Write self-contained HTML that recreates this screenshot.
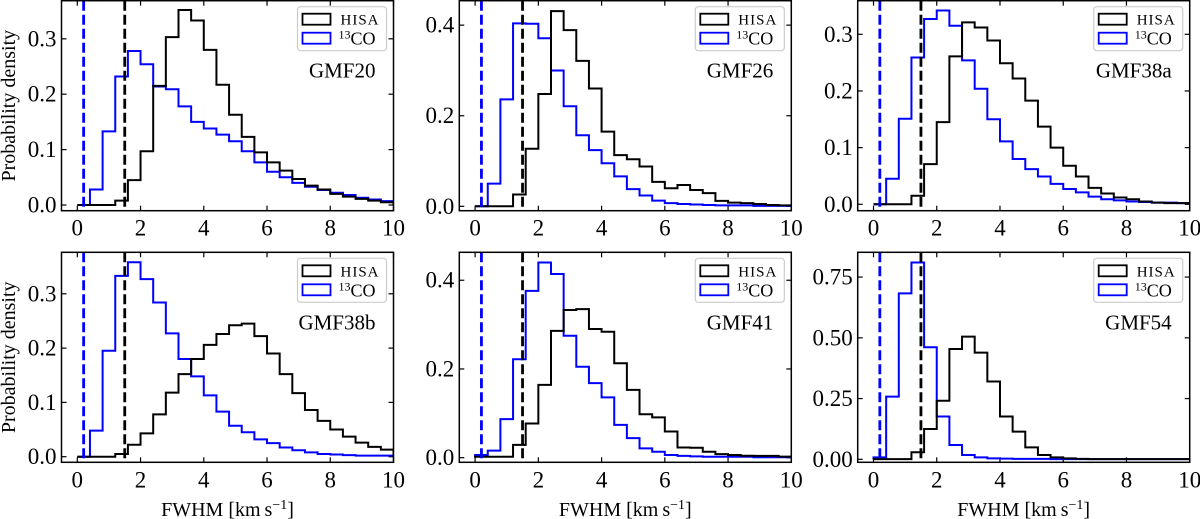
<!DOCTYPE html>
<html><head><meta charset="utf-8"><style>
html,body{margin:0;padding:0;background:#fff}
svg{display:block}
text{font-family:"Liberation Serif","DejaVu Serif",serif;fill:#000}
</style></head><body>
<svg id="fig" width="1200" height="519" viewBox="0 0 1200 519" xmlns="http://www.w3.org/2000/svg"></svg>
<script>
const binEdges = [0,0.4,0.8,1.2,1.6,2.0,2.4,2.8,3.2,3.6,4.0,4.4,4.8,5.2,5.6,6.0,6.4,6.8,7.2,7.6,8.0,8.4,8.8,9.2,9.6,10.0];
const panelNames = ["GMF20","GMF26","GMF38a","GMF38b","GMF41","GMF54"];
const hisaGMF20 = [0,0,0,0.008,0.045,0.097,0.215,0.303,0.352,0.333,0.280,0.217,0.163,0.123,0.095,0.077,0.062,0.047,0.035,0.028,0.020,0.015,0.011,0.008,0.005];
const coGMF20 = [0,0.028,0.133,0.232,0.278,0.254,0.214,0.209,0.178,0.150,0.138,0.127,0.115,0.097,0.077,0.060,0.050,0.040,0.033,0.027,0.022,0.018,0.013,0.010,0.007];
const hisaGMF26 = [0,0,0,0.026,0.127,0.248,0.431,0.389,0.321,0.260,0.165,0.113,0.104,0.088,0.054,0.040,0.047,0.036,0.029,0.012,0.008,0.007,0.005,0.003,0.002];
const coGMF26 = [0,0.050,0.236,0.404,0.403,0.371,0.300,0.221,0.157,0.124,0.095,0.066,0.038,0.024,0.0125,0.007,0.005,0.004,0.003,0.002,0.002,0.002,0.001,0.001,0.001];
const hisaGMF38a = [0,0,0,0.015,0.071,0.145,0.261,0.321,0.312,0.289,0.249,0.222,0.183,0.137,0.100,0.068,0.049,0.029,0.019,0.012,0.009,0.005,0.003,0.002,0.002];
const coGMF38a = [0,0.045,0.151,0.259,0.327,0.342,0.315,0.254,0.204,0.150,0.111,0.080,0.062,0.049,0.036,0.027,0.021,0.0135,0.009,0.007,0.005,0.004,0.003,0.003,0.002];
const hisaGMF38b = [0,0,0,0.005,0.022,0.043,0.078,0.118,0.152,0.180,0.206,0.226,0.242,0.245,0.222,0.190,0.152,0.117,0.086,0.066,0.050,0.037,0.026,0.018,0.013];
const coGMF38b = [0,0.048,0.195,0.333,0.358,0.327,0.284,0.227,0.180,0.148,0.113,0.083,0.057,0.045,0.032,0.025,0.017,0.012,0.008,0.005,0.004,0.003,0.002,0.002,0.002];
const hisaGMF41 = [0.002,0.002,0.002,0.029,0.077,0.164,0.286,0.333,0.335,0.290,0.284,0.213,0.153,0.098,0.091,0.059,0.023,0.0225,0.0135,0.008,0.006,0.0045,0.004,0.004,0.0025];
const coGMF41 = [0.006,0.016,0.087,0.222,0.376,0.440,0.414,0.275,0.205,0.168,0.136,0.074,0.044,0.021,0.0135,0.006,0.004,0.003,0.002,0.002,0.002,0.002,0.001,0.001,0.001];
const hisaGMF54 = [0.001,0.001,0.001,0.029,0.125,0.241,0.454,0.505,0.439,0.320,0.176,0.114,0.049,0.018,0.008,0.004,0.002,0.001,0.001,0.001,0.001,0.001,0.001,0.001,0.001];
const coGMF54 = [0.008,0.258,0.683,0.810,0.461,0.176,0.059,0.018,0.008,0.004,0.003,0.002,0.002,0.002,0.001,0.001,0.001,0.001,0.001,0.001,0.001,0.001,0.001,0.001,0.001];
const xTicks = [0,2,4,6,8,10];
const yTicks1 = [0,0.1,0.2,0.3];
const yTicks2 = [0,0.2,0.4];
const yTicks3 = [0,0.1,0.2,0.3];
const yTicks4 = [0,0.1,0.2,0.3];
const yTicks5 = [0,0.2,0.4];
const yTicks6 = [0,0.25,0.5,0.75];
const yLims = [[-0.0103,0.3688],[-0.0097,0.454],[-0.0113,0.3593],[-0.0103,0.3764],[-0.0104,0.463],[-0.0123,0.852]];
const hisaVline = 1.5, coVline = 0.2;

const NS="http://www.w3.org/2000/svg";
const svg=document.getElementById('fig');
function mk(tag,attrs,parent){const e=document.createElementNS(NS,tag);for(const k in attrs)e.setAttribute(k,attrs[k]);(parent||svg).appendChild(e);return e;}

const hisaAll=[hisaGMF20,hisaGMF26,hisaGMF38a,hisaGMF38b,hisaGMF41,hisaGMF54];
const coAll=[coGMF20,coGMF26,coGMF38a,coGMF38b,coGMF41,coGMF54];
const yTickAll=[yTicks1,yTicks2,yTicks3,yTicks4,yTicks5,yTicks6];
const lefts=[61.5,459.3,857.7];
const tops=[0.7,252.3];
const W=332,H=210;
const defs=mk('defs',{});

for(let p=0;p<6;p++){
  const L=lefts[p%3], T=tops[Math.floor(p/3)], B=T+H, R=L+W;
  const yl=yLims[p];
  const sx=v=>L+(v+0.5)/10.5*W;
  const sy=v=>B-(v-yl[0])/(yl[1]-yl[0])*H;
  const g=mk('g',{});
  
  
  const cp=mk('clipPath',{id:'c'+p},defs);
  mk('rect',{x:L,y:T,width:W,height:H},cp);
  const dec = p===5?2:1;
  yTickAll[p].forEach(t=>{
    const y=sy(t);
    mk('line',{x1:L,x2:L+5,y1:y,y2:y,stroke:'#000','stroke-width':1.2},g);
    mk('line',{x1:R,x2:R-5,y1:y,y2:y,stroke:'#000','stroke-width':1.2},g);
    const tx=mk('text',{x:L-5,y:y+7.5,'text-anchor':'end','font-size':23},g);
    tx.textContent=t.toFixed(dec);
    
    
  });
  xTicks.forEach(t=>{
    const x=sx(t);
    mk('line',{x1:x,x2:x,y1:B,y2:B-5,stroke:'#000','stroke-width':1.2},g);
    mk('line',{x1:x,x2:x,y1:T,y2:T+5,stroke:'#000','stroke-width':1.2},g);
    const tx=mk('text',{x:x,y:B+25,'text-anchor':'middle','font-size':23},g);
    tx.textContent=String(t);
    
    
  });
  function step(vals,color,name){
    let d='M'+sx(binEdges[0])+','+sy(0);
    for(let i=0;i<vals.length;i++){d+=' L'+sx(binEdges[i])+','+sy(vals[i])+' L'+sx(binEdges[i+1])+','+sy(vals[i]);}
    d+=' L'+sx(binEdges[vals.length])+','+sy(0);
    const e=mk('path',{d:d,fill:'none',stroke:color,'stroke-width':2,'clip-path':'url(#c'+p+')'},g);
    
    
  }
  step(coAll[p],'#0000ff','co-histogram');
  step(hisaAll[p],'#000','hisa-histogram');
  const v1=mk('line',{x1:sx(coVline),x2:sx(coVline),y1:T,y2:B,stroke:'#0000ff','stroke-width':2.8,'stroke-dasharray':'10,4'},g);
  
  
  const v2=mk('line',{x1:sx(hisaVline),x2:sx(hisaVline),y1:T,y2:B,stroke:'#000','stroke-width':2.8,'stroke-dasharray':'10,4'},g);
  
  
  const fr=mk('rect',{x:L,y:T,width:W,height:H,fill:'none',stroke:'#000','stroke-width':1.5},g);
  
  
  const lg=mk('g',{},g);
  
  
  const lx=R-96, ly=T+6;
  mk('rect',{x:lx,y:ly,width:89,height:44,rx:3,fill:'#fff','fill-opacity':0.85,stroke:'#ccc','stroke-width':1.2},lg);
  mk('rect',{x:lx+5,y:ly+7,width:28,height:11,fill:'none',stroke:'#000','stroke-width':1.8},lg);
  mk('rect',{x:lx+5,y:ly+26,width:28,height:11,fill:'none',stroke:'#0000ff','stroke-width':1.8},lg);
  const t1=mk('text',{x:lx+43,y:ly+18,'font-size':15,'letter-spacing':1},lg);
  t1.textContent='HISA';
  
  
  const t2=mk('text',{x:lx+41,y:ly+38,'font-size':18},lg);
  
  
  const ts=mk('tspan',{'font-size':12,dy:-6},t2); ts.textContent='13';
  const tc=mk('tspan',{dy:6},t2); tc.textContent='CO';
  const nm=mk('text',{x:R-18,y:T+77,'text-anchor':'end','font-size':21},g);
  nm.textContent=panelNames[p];
  
  
  if(p%3===0){
    const yt=mk('text',{x:0,y:0,'text-anchor':'middle','font-size':20,transform:'translate(15,'+(T+105)+') rotate(-90)'},g);
    yt.textContent='Probability density';
    
    
  }
  if(p>=3){
    const xt=mk('text',{x:L+W/2,y:516,'text-anchor':'middle','font-size':20},g);
    
    
    const a=mk('tspan',{},xt); a.textContent='FWHM [km\u2009s';
    const b=mk('tspan',{'font-size':14,dy:-7},xt); b.textContent='\u22121';
    const c=mk('tspan',{dy:7},xt); c.textContent=']';
  }
}
</script>
</body></html>
